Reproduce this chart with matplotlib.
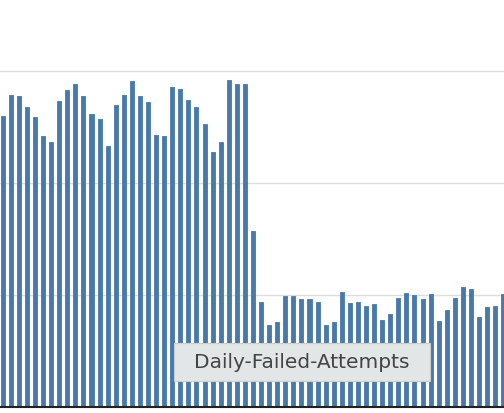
import matplotlib
matplotlib.use("Agg")
import matplotlib.pyplot as plt
from matplotlib.patches import Rectangle

# Daily failed attempts (gridline step = 100)
values = [260, 279, 278, 268, 259, 242, 237, 273, 283, 288,
          278, 262, 257, 233, 270, 279, 291, 278, 272, 243,
          242, 286, 284, 274, 268, 253, 228, 237, 292, 288,
          288, 157, 94, 73, 76, 99, 99, 96, 96, 94,
          73, 76, 103, 93, 94, 90, 92, 78, 83, 97,
          102, 100, 96, 101, 77, 87, 97, 107, 105, 80,
          89, 90, 101]
days = list(range(len(values)))
grid_ticks = [100, 200, 300]
series_name = "Daily-Failed-Attempts"

W, H = 504, 414
fig = plt.figure(figsize=(W / 100, H / 100), dpi=100)
ax = fig.add_axes([0, 6 / H, 1, 1 - 6 / H])

bar_color = "#4879ab"
bars = ax.bar(days, values, width=0.5, color=bar_color, edgecolor=bar_color,
              linewidth=0.6, zorder=2)
for b in bars:
    b.set_joinstyle("round")

px_per_unit = 8.074
xmin = -2.7 / px_per_unit
ax.set_xlim(xmin, xmin + W / px_per_unit)
ax.set_ylim(0, 408 / 112 * 100)

ax.set_yticks(grid_ticks)
ax.set_xticks([])
ax.yaxis.grid(True, color="#dddddd", linewidth=1.0)
ax.set_axisbelow(True)
ax.tick_params(left=False, labelleft=False, bottom=False, labelbottom=False)
for s in ["top", "right", "left"]:
    ax.spines[s].set_visible(False)
ax.spines["bottom"].set_color("#222222")
ax.spines["bottom"].set_linewidth(1.5)
ax.spines["bottom"].set_zorder(3)

# tooltip
bx0, bx1, by0, by1 = 174, 429.5, 343.5, 381.5
fig.patches.append(Rectangle((bx0 / W, 1 - by1 / H), (bx1 - bx0) / W, (by1 - by0) / H,
                             transform=fig.transFigure, facecolor="#e3e6e6",
                             edgecolor="#c9cdcd", linewidth=0.8, zorder=5))
fig.text((bx0 + bx1) / 2 / W, 1 - (by0 + by1) / 2 / H, series_name,
         ha="center", va="center", fontsize=14.5, color="#444444",
         family="DejaVu Sans", zorder=6)

fig.savefig("out.png", dpi=100)
